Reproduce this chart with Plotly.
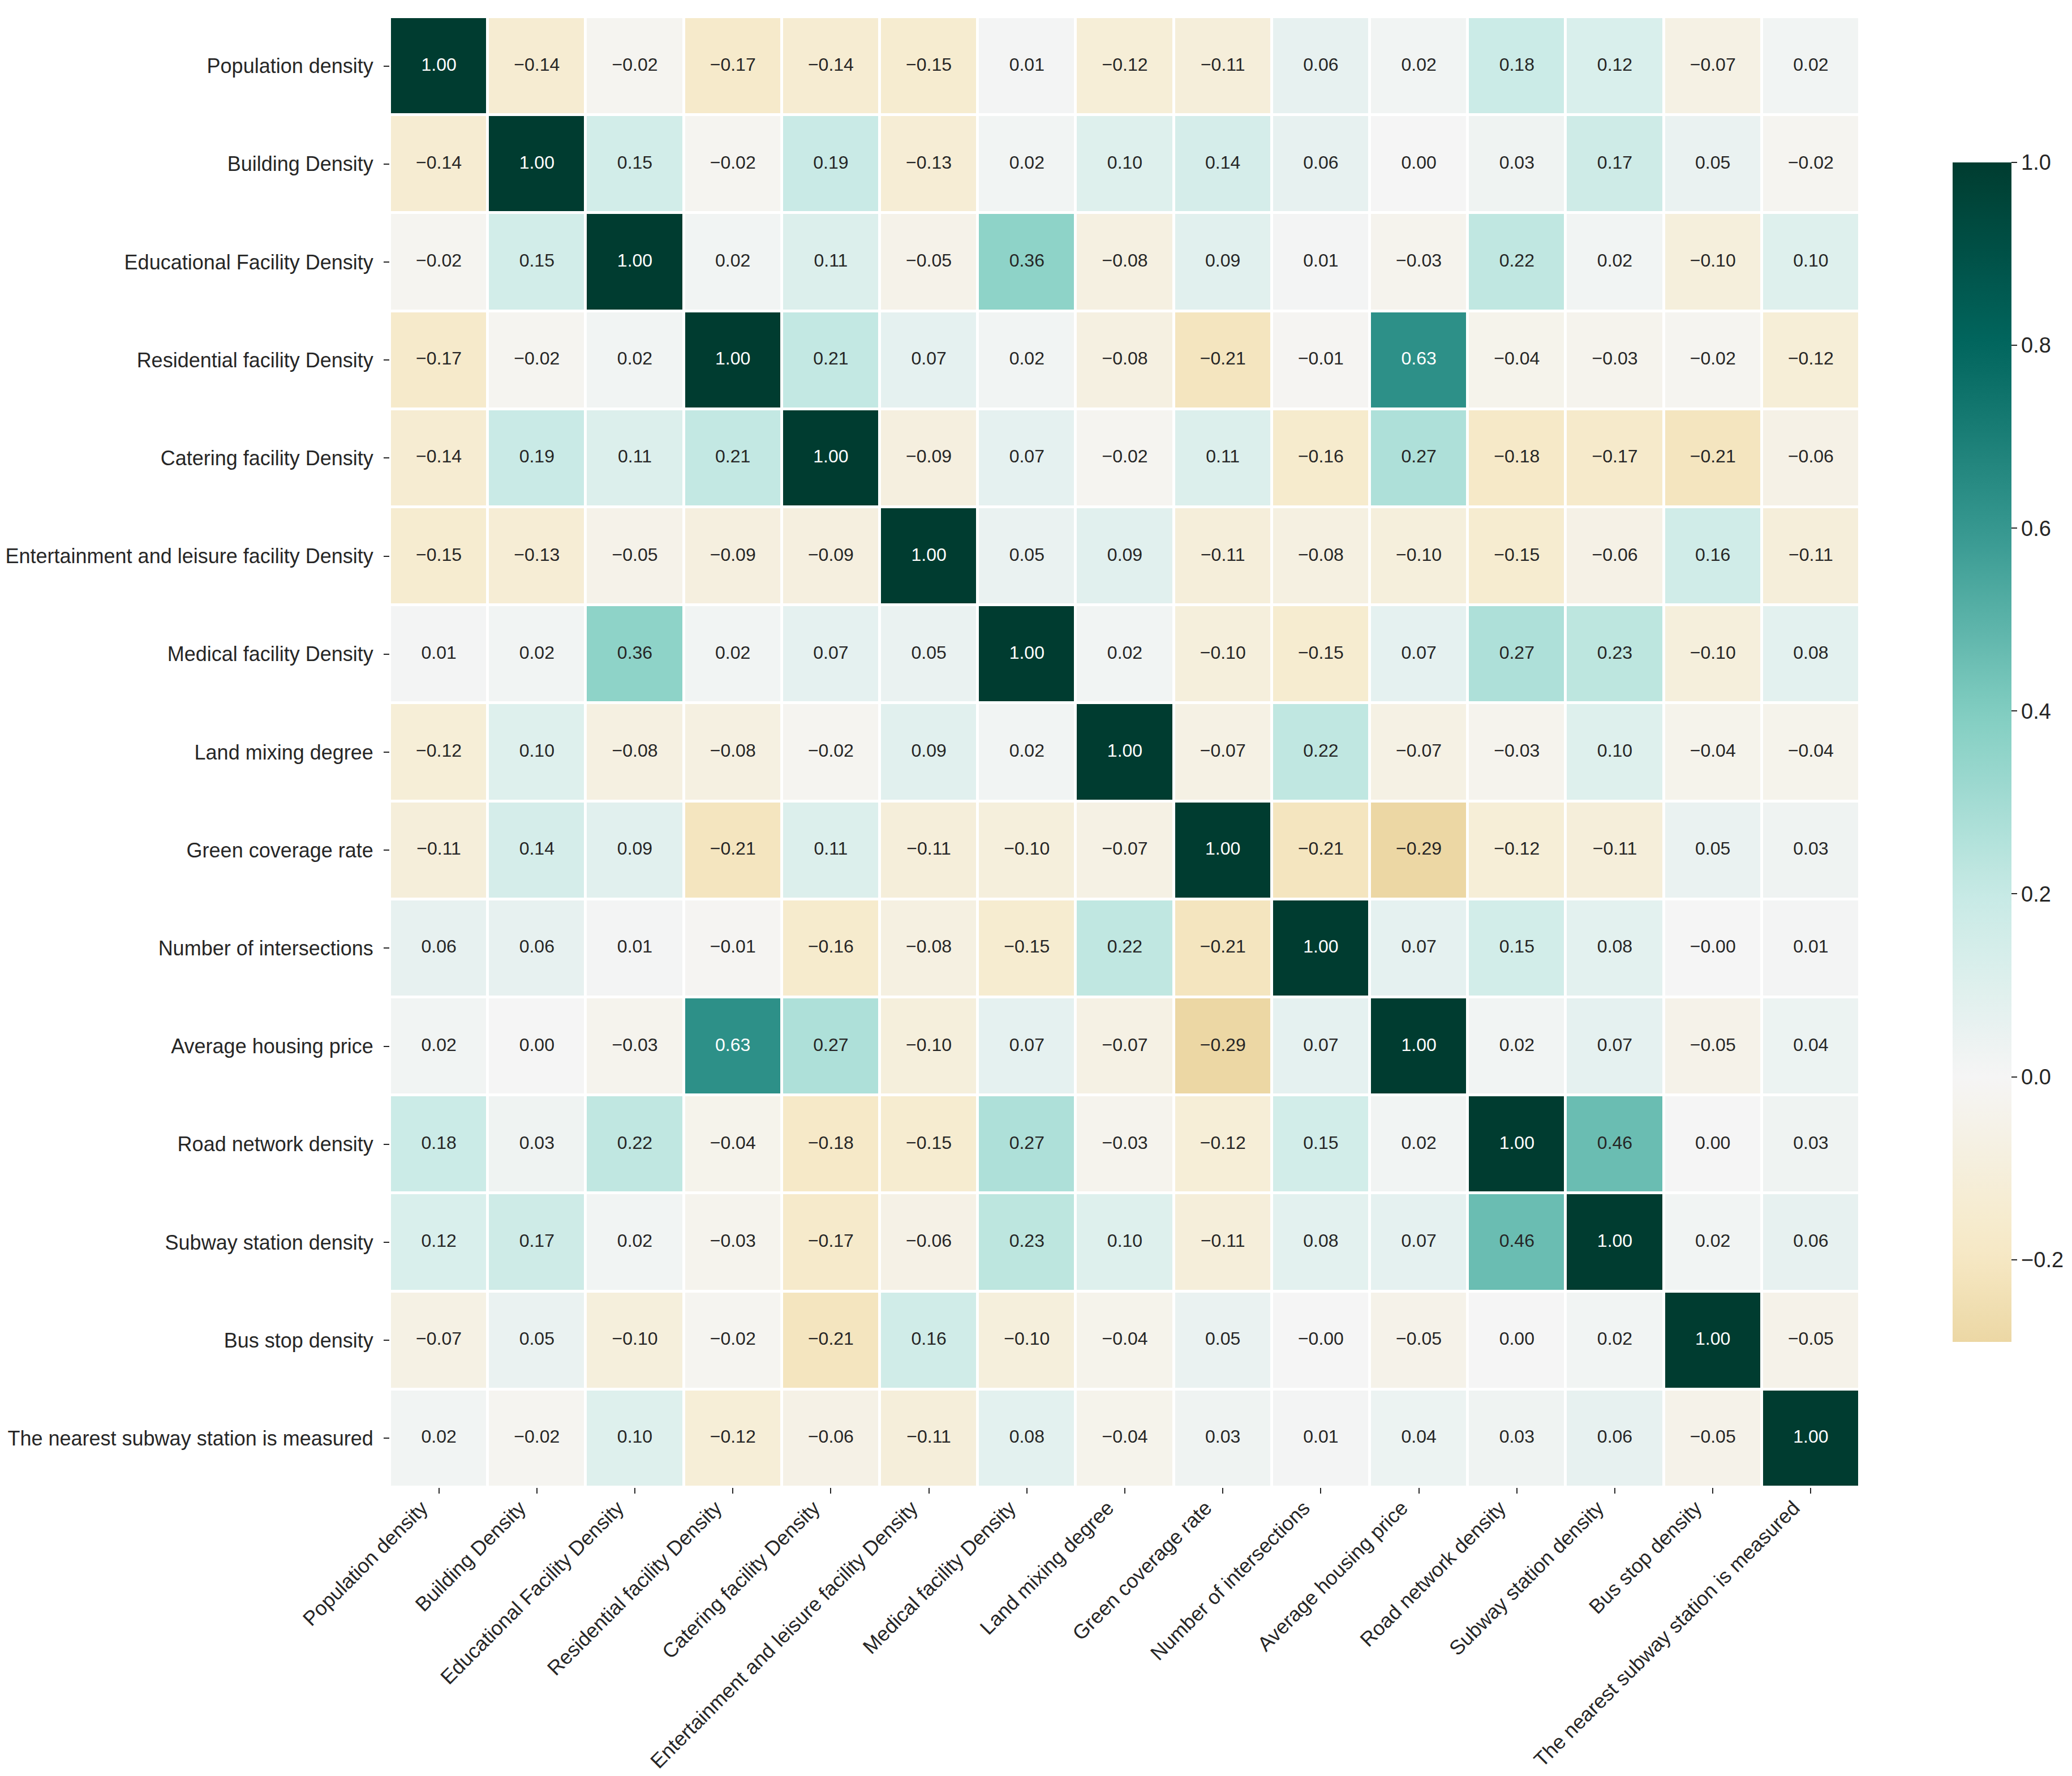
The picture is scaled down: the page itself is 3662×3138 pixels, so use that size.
import plotly.graph_objects as go

# variable names, same order on both axes
labels = [
    "Population density",
    "Building Density",
    "Educational Facility Density",
    "Residential facility Density",
    "Catering facility Density",
    "Entertainment and leisure facility Density",
    "Medical facility Density",
    "Land mixing degree",
    "Green coverage rate",
    "Number of intersections",
    "Average housing price",
    "Road network density",
    "Subway station density",
    "Bus stop density",
    "The nearest subway station is measured",
]

# correlation matrix, row by row
corr = [
    [1.00, -0.14, -0.02, -0.17, -0.14, -0.15, 0.01, -0.12, -0.11, 0.06, 0.02, 0.18, 0.12, -0.07, 0.02],
    [-0.14, 1.00, 0.15, -0.02, 0.19, -0.13, 0.02, 0.10, 0.14, 0.06, 0.00, 0.03, 0.17, 0.05, -0.02],
    [-0.02, 0.15, 1.00, 0.02, 0.11, -0.05, 0.36, -0.08, 0.09, 0.01, -0.03, 0.22, 0.02, -0.10, 0.10],
    [-0.17, -0.02, 0.02, 1.00, 0.21, 0.07, 0.02, -0.08, -0.21, -0.01, 0.63, -0.04, -0.03, -0.02, -0.12],
    [-0.14, 0.19, 0.11, 0.21, 1.00, -0.09, 0.07, -0.02, 0.11, -0.16, 0.27, -0.18, -0.17, -0.21, -0.06],
    [-0.15, -0.13, -0.05, -0.09, -0.09, 1.00, 0.05, 0.09, -0.11, -0.08, -0.10, -0.15, -0.06, 0.16, -0.11],
    [0.01, 0.02, 0.36, 0.02, 0.07, 0.05, 1.00, 0.02, -0.10, -0.15, 0.07, 0.27, 0.23, -0.10, 0.08],
    [-0.12, 0.10, -0.08, -0.08, -0.02, 0.09, 0.02, 1.00, -0.07, 0.22, -0.07, -0.03, 0.10, -0.04, -0.04],
    [-0.11, 0.14, 0.09, -0.21, 0.11, -0.11, -0.10, -0.07, 1.00, -0.21, -0.29, -0.12, -0.11, 0.05, 0.03],
    [0.06, 0.06, 0.01, -0.01, -0.16, -0.08, -0.15, 0.22, -0.21, 1.00, 0.07, 0.15, 0.08, -0.0, 0.01],
    [0.02, 0.00, -0.03, 0.63, 0.27, -0.10, 0.07, -0.07, -0.29, 0.07, 1.00, 0.02, 0.07, -0.05, 0.04],
    [0.18, 0.03, 0.22, -0.04, -0.18, -0.15, 0.27, -0.03, -0.12, 0.15, 0.02, 1.00, 0.46, 0.00, 0.03],
    [0.12, 0.17, 0.02, -0.03, -0.17, -0.06, 0.23, 0.10, -0.11, 0.08, 0.07, 0.46, 1.00, 0.02, 0.06],
    [-0.07, 0.05, -0.10, -0.02, -0.21, 0.16, -0.10, -0.04, 0.05, -0.0, -0.05, 0.00, 0.02, 1.00, -0.05],
    [0.02, -0.02, 0.10, -0.12, -0.06, -0.11, 0.08, -0.04, 0.03, 0.01, 0.04, 0.03, 0.06, -0.05, 1.00],
]

cbar_ticks = [-0.2, 0.0, 0.2, 0.4, 0.6, 0.8, 1.0]
cbar_ticktext = ["\u22120.2", "0.0", "0.2", "0.4", "0.6", "0.8", "1.0"]

# BrBG, 11 anchor colours
BRBG = [
    (84, 48, 5), (140, 81, 10), (191, 129, 45), (223, 194, 125), (246, 232, 195),
    (245, 245, 245), (199, 234, 229), (128, 205, 193), (53, 151, 143), (1, 102, 94), (0, 60, 48),
]

zmin = min(min(r) for r in corr)
zmax = max(max(r) for r in corr)


def brbg(p):
    p = min(max(p, 0.0), 1.0) * 10
    i = min(int(p), 9)
    f = p - i
    a, b = BRBG[i], BRBG[i + 1]
    return tuple(a[k] + (b[k] - a[k]) * f for k in range(3))


def value_color(v):
    # diverging map centred on 0 (range -1..1), like seaborn center=0
    return brbg((v + 1) / 2)


def luminance(rgb):
    out = []
    for c in rgb:
        c = c / 255
        out.append(c / 12.92 if c <= 0.03928 else ((c + 0.055) / 1.055) ** 2.4)
    return 0.2126 * out[0] + 0.7152 * out[1] + 0.0722 * out[2]


n_stops = 40
colorscale = []
for k in range(n_stops + 1):
    s = k / n_stops
    r, g, b = value_color(zmin + s * (zmax - zmin))
    colorscale.append([s, f"rgb({r:.0f},{g:.0f},{b:.0f})"])

xs, ys, texts, tcolors = [], [], [], []
for i, row in enumerate(corr):
    for j, v in enumerate(row):
        xs.append(labels[j])
        ys.append(labels[i])
        texts.append(f"{v:.2f}".replace("-", "\u2212"))
        tcolors.append("#262626" if luminance(value_color(v)) > 0.408 else "white")

FONT = "Liberation Sans, Arial, sans-serif"
W, H = 3662, 3138
left, right, top, bottom = 681, 3279, 22, 2620
cb_left, cb_top, cb_bottom = 3443, 279, 2363

fig = go.Figure()
fig.add_trace(go.Heatmap(
    z=corr, x=labels, y=labels,
    zmin=zmin, zmax=zmax,
    colorscale=colorscale,
    xgap=5, ygap=5,
    hoverinfo="skip",
    colorbar=dict(
        x=(cb_left - left) / (right - left), xanchor="left", xpad=0,
        y=(bottom - (cb_top + cb_bottom) / 2) / (bottom - top), yanchor="middle", ypad=0,
        thickness=104,
        lenmode="pixels", len=cb_bottom - cb_top,
        outlinewidth=0,
        tickvals=cbar_ticks, ticktext=cbar_ticktext,
        ticks="outside", ticklen=10, tickwidth=2, tickcolor="#262626",
        tickfont=dict(family=FONT, size=38, color="#262626"),
    ),
))
fig.add_trace(go.Scatter(
    x=xs, y=ys, mode="text", text=texts,
    textfont=dict(family=FONT, size=32, color=tcolors),
    hoverinfo="skip", showlegend=False,
))

axis_common = dict(
    showgrid=False, zeroline=False, showline=False,
    ticks="outside", ticklen=10, tickwidth=2, tickcolor="#262626",
    tickfont=dict(family=FONT, size=36, color="#262626"),
)
fig.update_xaxes(range=[-0.5, len(labels) - 0.5], tickangle=-45,
                 ticklabelshift=-30, ticklabelstandoff=-10, **axis_common)
fig.update_yaxes(range=[len(labels) - 0.5, -0.5], ticklabelstandoff=11, **axis_common)

fig.update_layout(
    width=W, height=H,
    margin=dict(l=left, r=W - right, t=top, b=H - bottom, autoexpand=False),
    paper_bgcolor="white", plot_bgcolor="white",
    font=dict(family=FONT, color="#262626"),
    showlegend=False,
)

fig.write_html("out.html")
